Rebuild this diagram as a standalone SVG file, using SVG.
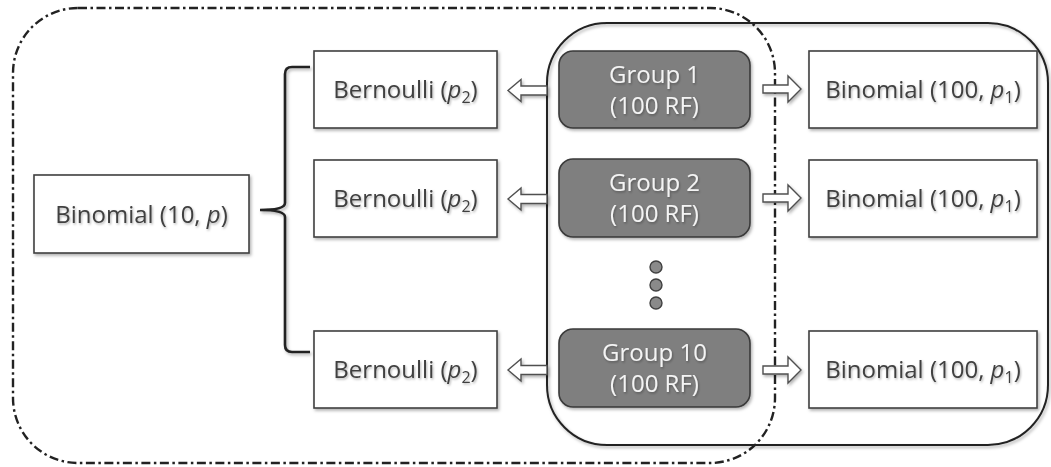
<svg xmlns="http://www.w3.org/2000/svg" width="1051" height="467" viewBox="0 0 1051 467">
<defs>
<filter id="sh" x="-10%" y="-10%" width="130%" height="140%">
<feDropShadow dx="1.5" dy="2" stdDeviation="1.5" flood-color="#000" flood-opacity="0.3"/>
</filter>
<filter id="tsh" x="-10%" y="-20%" width="130%" height="160%">
<feDropShadow dx="1" dy="1.5" stdDeviation="1" flood-color="#000" flood-opacity="0.3"/>
</filter>
</defs>
<style>
.box{fill:#fff;stroke:#404040;stroke-width:1.6;filter:url(#sh)}
.grp{fill:#7f7f7f;stroke:#3a3a3a;stroke-width:1.6;filter:url(#sh)}
.t{font-family:"Open Sans","Liberation Sans",sans-serif;font-size:24px;fill:#404040;text-anchor:middle;filter:url(#tsh)}
.tw{font-family:"Open Sans","Liberation Sans",sans-serif;font-size:24px;fill:#f4f4f4;text-anchor:middle;filter:url(#tsh)}
.it{font-style:italic}
.sub{font-size:16px}
.arr{fill:#fff;stroke:#505050;stroke-width:1.4;filter:url(#sh)}
.dot{fill:#8a8a8a;stroke:#404040;stroke-width:1.4}
</style>
<g id="containers">
<rect x="13" y="8" width="762" height="455" rx="65" ry="65" fill="none" stroke="#222" stroke-width="2.4" stroke-dasharray="9 3.5 2.5 3.5"/>
<rect x="547" y="23" width="501" height="422" rx="60" ry="60" fill="none" stroke="#222" stroke-width="2" filter="url(#sh)"/>
</g>
<g id="n-binomial10">
<rect class="box" x="34" y="175" width="215" height="78"/>
<text class="t" x="141.5" y="222.5">Binomial (10, <tspan class="it">p</tspan>)</text>
</g>
<g id="n-bern1">
<rect class="box" x="314" y="51" width="183" height="77"/>
<text class="t" x="405.5" y="98">Bernoulli (<tspan class="it">p</tspan><tspan class="sub" dy="5">2</tspan><tspan dy="-5">)</tspan></text>
</g>
<g id="n-bern2">
<rect class="box" x="314" y="160" width="183" height="77"/>
<text class="t" x="405.5" y="207">Bernoulli (<tspan class="it">p</tspan><tspan class="sub" dy="5">2</tspan><tspan dy="-5">)</tspan></text>
</g>
<g id="n-bern3">
<rect class="box" x="314" y="331" width="183" height="77"/>
<text class="t" x="405.5" y="378">Bernoulli (<tspan class="it">p</tspan><tspan class="sub" dy="5">2</tspan><tspan dy="-5">)</tspan></text>
</g>
<g id="n-group1">
<rect class="grp" x="559" y="51" width="191" height="77" rx="14" ry="14"/>
<text class="tw" x="654.5" y="82.5">Group 1</text>
<text class="tw" x="654.5" y="113.5">(100 RF)</text>
</g>
<g id="n-group2">
<rect class="grp" x="559" y="159" width="191" height="78" rx="14" ry="14"/>
<text class="tw" x="654.5" y="191">Group 2</text>
<text class="tw" x="654.5" y="222">(100 RF)</text>
</g>
<g id="n-dots">
<circle class="dot" cx="656" cy="267" r="6"/>
<circle class="dot" cx="656" cy="285" r="6"/>
<circle class="dot" cx="656" cy="303" r="6"/>
</g>
<g id="n-group10">
<rect class="grp" x="559" y="329" width="191" height="78" rx="14" ry="14"/>
<text class="tw" x="654.5" y="361">Group 10</text>
<text class="tw" x="654.5" y="392">(100 RF)</text>
</g>
<g id="n-bin1">
<rect class="box" x="809" y="51" width="228" height="77"/>
<text class="t" x="923" y="98">Binomial (100, <tspan class="it">p</tspan><tspan class="sub" dy="5">1</tspan><tspan dy="-5">)</tspan></text>
</g>
<g id="n-bin2">
<rect class="box" x="809" y="160" width="228" height="77"/>
<text class="t" x="923" y="207">Binomial (100, <tspan class="it">p</tspan><tspan class="sub" dy="5">1</tspan><tspan dy="-5">)</tspan></text>
</g>
<g id="n-bin3">
<rect class="box" x="809" y="331" width="228" height="77"/>
<text class="t" x="923" y="378">Binomial (100, <tspan class="it">p</tspan><tspan class="sub" dy="5">1</tspan><tspan dy="-5">)</tspan></text>
</g>
<g id="connectors">
<path d="M310,67 L292,67 Q285,67 285,74 L285,203 Q285,210 260,210 Q285,210 285,217 L285,345 Q285,352 292,352 L310,352" fill="none" stroke="#222" stroke-width="2.6" filter="url(#sh)"/>
<path class="arr" d="M547,86 L521,86 L521,79.5 L508,90.5 L521,101.5 L521,95 L547,95 Z"/>
<path class="arr" d="M547,194.5 L521,194.5 L521,188 L508,199 L521,210 L521,203.5 L547,203.5 Z"/>
<path class="arr" d="M547,365.5 L521,365.5 L521,359 L508,370 L521,381 L521,374.5 L547,374.5 Z"/>
<path class="arr" d="M763,85 L788,85 L788,76 L801,89 L788,102 L788,93 L763,93 Z"/>
<path class="arr" d="M763,194 L788,194 L788,185 L801,198 L788,211 L788,202 L763,202 Z"/>
<path class="arr" d="M763,366 L788,366 L788,357 L801,370 L788,383 L788,374 L763,374 Z"/>
</g>
</svg>
